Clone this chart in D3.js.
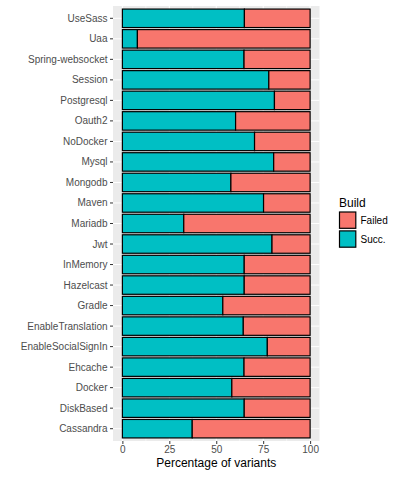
<!DOCTYPE html>
<html>
<head>
<meta charset="utf-8">
<script src="https://cdnjs.cloudflare.com/ajax/libs/d3/7.8.5/d3.min.js"></script>
<style>
  body { margin: 0; background: #fff; }
  svg { font-family: "Liberation Sans", Arial, sans-serif; }
</style>
</head>
<body>
<div id="chart"></div>
<script>
// features, top to bottom as drawn
const features = ["UseSass", "Uaa", "Spring-websocket", "Session", "Postgresql", "Oauth2",
    "NoDocker", "Mysql", "Mongodb", "Maven", "Mariadb", "Jwt", "InMemory", "Hazelcast",
    "Gradle", "EnableTranslation", "EnableSocialSignIn", "Ehcache", "Docker", "DiskBased", "Cassandra"]

// percentage of succeeding variants for each feature
const succValues = [65, 8, 64.8, 78, 81, 60.3, 70.4, 80.6, 57.8, 75.2, 32.7, 79.7, 64.9, 64.9,
    53.5, 64.4, 77.2, 64.8, 58.3, 64.9, 37.2]

const buildLevels = ["Failed", "Succ."]
const xTicks = [0, 25, 50, 75, 100]

const colors = { "Failed": "#F8766D", "Succ.": "#00BFC4" }

const width = 399, height = 478
const panel = { left: 113, right: 319.5, top: 6, bottom: 441 }

const svg = d3.select("#chart").append("svg")
    .attr("width", width)
    .attr("height", height)

// scales (ggplot-like 5% expansion on x, 0.6 units on discrete y)
const x = d3.scaleLinear()
    .domain([-5, 105])
    .range([panel.left, panel.right])

const yPos = d3.scaleLinear()
    .domain([0.4, features.length + 0.6])
    .range([panel.bottom, panel.top])
// top feature sits at position n
const yCenter = (i) => yPos(features.length - i)
const bandH = (panel.bottom - panel.top) / (features.length + 0.2)
const barH = bandH * 0.9

// panel background
svg.append("rect")
    .attr("x", panel.left)
    .attr("y", panel.top)
    .attr("width", panel.right - panel.left)
    .attr("height", panel.bottom - panel.top)
    .attr("fill", "#EBEBEB")

// minor grid
const minor = [12.5, 37.5, 62.5, 87.5]
svg.selectAll(".minor")
    .data(minor)
    .enter().append("line")
    .attr("x1", d => x(d)).attr("x2", d => x(d))
    .attr("y1", panel.top).attr("y2", panel.bottom)
    .attr("stroke", "#fff").attr("stroke-width", 0.5)

// major grid
svg.selectAll(".major-x")
    .data(xTicks)
    .enter().append("line")
    .attr("x1", d => x(d)).attr("x2", d => x(d))
    .attr("y1", panel.top).attr("y2", panel.bottom)
    .attr("stroke", "#fff").attr("stroke-width", 1)

svg.selectAll(".major-y")
    .data(features)
    .enter().append("line")
    .attr("x1", panel.left).attr("x2", panel.right)
    .attr("y1", (d, i) => yCenter(i)).attr("y2", (d, i) => yCenter(i))
    .attr("stroke", "#fff").attr("stroke-width", 1)

// stacked bars
const rows = features.map((f, i) => ({ feature: f, i: i, succ: succValues[i] }))

const groups = svg.selectAll(".row")
    .data(rows)
    .enter().append("g")
    .attr("class", "row")

groups.append("rect")
    .attr("x", d => x(0))
    .attr("y", d => yCenter(d.i) - barH / 2)
    .attr("width", d => x(d.succ) - x(0))
    .attr("height", barH)
    .attr("fill", colors["Succ."])
    .attr("stroke", "#000")
    .attr("stroke-width", 1.2)

groups.append("rect")
    .attr("x", d => x(d.succ))
    .attr("y", d => yCenter(d.i) - barH / 2)
    .attr("width", d => x(100) - x(d.succ))
    .attr("height", barH)
    .attr("fill", colors["Failed"])
    .attr("stroke", "#000")
    .attr("stroke-width", 1.2)

// y axis ticks + labels
svg.selectAll(".ytick")
    .data(features)
    .enter().append("line")
    .attr("x1", panel.left - 3).attr("x2", panel.left)
    .attr("y1", (d, i) => yCenter(i)).attr("y2", (d, i) => yCenter(i))
    .attr("stroke", "#333").attr("stroke-width", 1)

svg.selectAll(".ylab")
    .data(features)
    .enter().append("text")
    .attr("x", panel.left - 5.5)
    .attr("y", (d, i) => yCenter(i))
    .attr("dy", "0.35em")
    .attr("text-anchor", "end")
    .attr("font-size", "10px")
    .attr("fill", "#4D4D4D")
    .text(d => d)

// x axis
const xAxis = d3.axisBottom(x)
    .tickValues(xTicks)
    .tickSize(3)
    .tickPadding(2)

const gx = svg.append("g")
    .attr("transform", "translate(0," + panel.bottom + ")")
    .call(xAxis)
gx.select(".domain").remove()
gx.selectAll(".tick line").attr("stroke", "#333")
gx.selectAll(".tick text")
    .attr("font-size", "10px")
    .attr("font-family", "Liberation Sans, Arial, sans-serif")
    .attr("fill", "#4D4D4D")

svg.append("text")
    .attr("x", (panel.left + panel.right) / 2)
    .attr("y", 467)
    .attr("text-anchor", "middle")
    .attr("font-size", "12px")
    .attr("fill", "#000")
    .text("Percentage of variants")

// legend
const legend = svg.append("g")
    .attr("transform", "translate(339,0)")

legend.append("text")
    .attr("x", 0)
    .attr("y", 206.5)
    .attr("font-size", "12px")
    .text("Build")

const keySize = 17.3
legend.selectAll(".key")
    .data(buildLevels)
    .enter().append("rect")
    .attr("x", 0.5)
    .attr("y", (d, i) => 212 + i * (keySize + 1.6))
    .attr("width", keySize - 1)
    .attr("height", keySize - 1)
    .attr("fill", d => colors[d])
    .attr("stroke", "#000")
    .attr("stroke-width", 1.2)

legend.selectAll(".key-label")
    .data(buildLevels)
    .enter().append("text")
    .attr("x", 21.5)
    .attr("y", (d, i) => 212 + i * (keySize + 1.6) + keySize / 2)
    .attr("dy", "0.35em")
    .attr("font-size", "10px")
    .text(d => d)
</script>
</body>
</html>
